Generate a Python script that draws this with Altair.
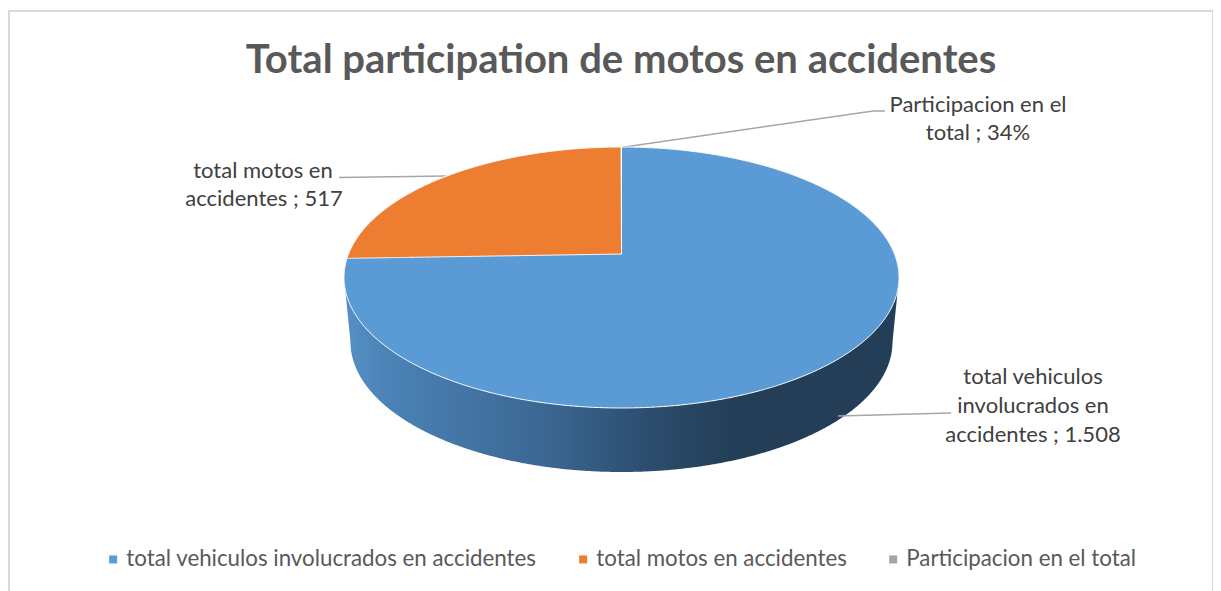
import numpy as np
import pandas as pd
import altair as alt

# Values
categories = ["total vehiculos involucrados en accidentes", "total motos en accidentes", "Participacion en el total"]
values = [1508, 517, 0.34]
colors = ["#5B9BD5", "#ED7D31", "#A5A5A5"]
title_text = "Total participation de motos en accidentes"

label_lines = ["Participacion en el", "total ; 34%", "total motos en", "accidentes ; 517",
               "total vehiculos", "involucrados en", "accidentes ; 1.508"]
label_x = [978, 978, 263, 264, 1033, 1033, 1033]
label_y = [105, 133, 171, 199, 377, 406, 435]

leader_id = [0, 0, 0, 1, 1, 2, 2]
leader_x = [621, 873, 885, 339, 446, 838, 951]
leader_y = [147.5, 111, 111, 177.5, 176, 416, 413]

# Pie layout (in screen-like units of the x and y scales)
X0, X1, Y0, Y1 = 9, 1213, 11, 596
CX, CY, RX, RY = 621.5, 277.5, 277.5, 130.5
K = 0.18            # perspective tilt
DEPTH_CY, DEPTH_RX, DEPTH_RY = 342.0, 271.0, 130.0

xs_scale = alt.Scale(domain=[X0, X1], nice=False, zero=False)
ys_scale = alt.Scale(domain=[Y0, Y1], nice=False, zero=False, reverse=True)
X = lambda f: alt.X(f, type="quantitative", scale=xs_scale, axis=None)
Y = lambda f: alt.Y(f, type="quantitative", scale=ys_scale, axis=None)


def project(theta):
    u, v = np.sin(theta), np.cos(theta)
    d = 1 + K * v
    return CX + RX * u * np.sqrt(1 - K * K) / d, CY - RY * (v + K) / d


shares = np.array(values) / np.sum(values)
edges = np.concatenate([[0], np.cumsum(shares)]) * 2 * np.pi

# Whole top disc carries the first series
t = np.linspace(np.pi, 0, 721)
ex = CX + RX * np.cos(t)
ey = RY * np.sin(t)
rows = [pd.DataFrame({"x": ex, "y": CY - ey, "y2": CY + ey, "series": categories[0]})]

# The remaining slices lie in the upper-left quarter of the disc
for i in (1, 2):
    th = np.linspace(edges[i], edges[i + 1], 240)
    ax, ay = project(th)
    apex_x, apex_y = CX, CY - RY * K
    x = np.concatenate([ax, [CX]])
    upper = np.concatenate([ay, [apex_y]])
    lower = np.interp(x, [ax[0], CX], [ay[0], apex_y])
    rows.append(pd.DataFrame({"x": x, "y": upper, "y2": lower, "series": categories[i]}))
top_df = pd.concat(rows, ignore_index=True)

# Side wall of the disc
sx = CX + RX * np.cos(t)
side_top = CY + ey
dx = np.abs(sx - CX)
inside = dx <= DEPTH_RX
side_bot = np.where(
    inside,
    DEPTH_CY + DEPTH_RY * np.sqrt(np.clip(1 - (dx / DEPTH_RX) ** 2, 0, 1)),
    CY + (DEPTH_CY - CY) * (RX - dx) / (RX - DEPTH_RX),
)
side_df = pd.DataFrame({"x": sx, "y": side_top, "y2": side_bot})

gradient = alt.Gradient(
    gradient="linear", x1=0, x2=1, y1=0, y2=0,
    stops=[
        alt.GradientStop(color="#5590C4", offset=0),
        alt.GradientStop(color="#4A80B3", offset=0.1),
        alt.GradientStop(color="#3A6590", offset=0.38),
        alt.GradientStop(color="#2C4D6E", offset=0.55),
        alt.GradientStop(color="#233E56", offset=0.7),
        alt.GradientStop(color="#233E56", offset=1),
    ],
)

side = alt.Chart(side_df).mark_area(fill=gradient, interpolate="linear").encode(
    x=X("x"), y=Y("y"), y2="y2"
)

leaders = alt.Chart(pd.DataFrame({"id": leader_id, "x": leader_x, "y": leader_y})).mark_line(
    color="#A6A6A6", strokeWidth=1.5
).encode(x=X("x"), y=Y("y"), detail="id:N", order=alt.Order("x:Q"))

top = alt.Chart(top_df).mark_area(stroke="#FFFFFF", strokeWidth=1.0, interpolate="linear").encode(
    x=X("x"), y=Y("y"), y2="y2",
    color=alt.Color(
        "series:N",
        scale=alt.Scale(domain=categories, range=colors),
        legend=alt.Legend(
            title=None, orient="none", direction="horizontal", columns=3,
            legendX=93, legendY=537, symbolType="square", symbolSize=64,
            symbolStrokeWidth=0, labelFont="Lato", labelFontSize=22.3, labelColor="#595959",
            labelLimit=600, labelOffset=2, columnPadding=35,
        ),
    ),
)

labels = alt.Chart(pd.DataFrame({"t": label_lines, "x": label_x, "y": label_y})).mark_text(
    font="Lato", fontSize=22, color="#404040", align="center", baseline="middle"
).encode(x=X("x"), y=Y("y"), text="t:N")

chart = alt.layer(side, leaders, top, labels).properties(
    width=X1 - X0,
    height=Y1 - Y0,
    title=alt.TitleParams(
        title_text, font="Lato", fontSize=40, fontWeight="bold", color="#595959",
        anchor="middle", frame="group", dx=10, dy=74,
    ),
    padding={"left": 1, "top": 3, "right": 0, "bottom": 0},
    autosize=alt.AutoSizeParams(type="none"),
).configure_view(stroke="#D9D9D9", strokeWidth=2).configure_title(offset=0)

chart.save("out.html", embed_options={"renderer": "svg", "actions": False})
